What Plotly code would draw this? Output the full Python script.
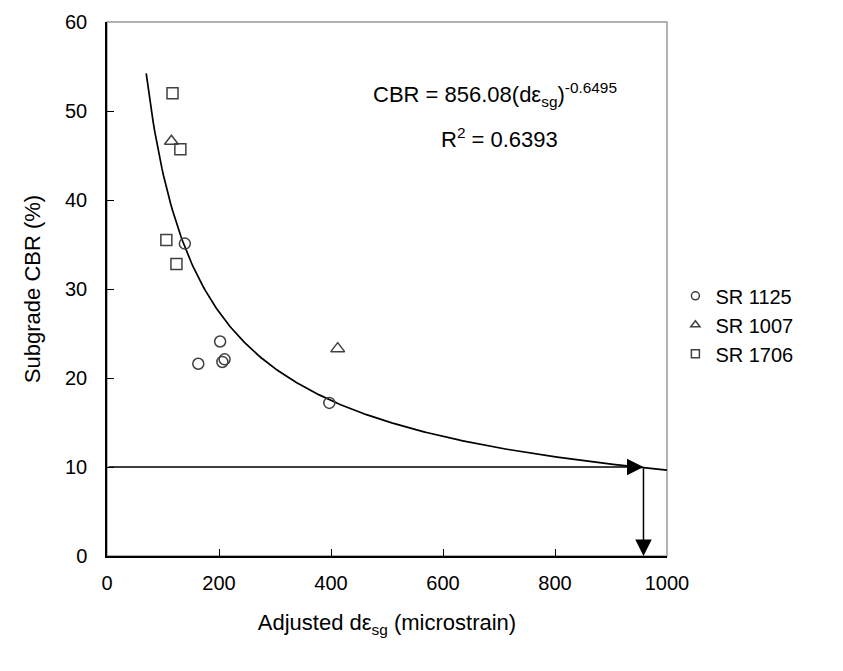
import numpy as np
import plotly.graph_objects as go

# Data
sr1125_x = [139, 202, 163, 206, 210, 397]
sr1125_y = [35.1, 24.1, 21.6, 21.8, 22.1, 17.2]
sr1007_x = [115, 412]
sr1007_y = [46.6, 23.3]
sr1706_x = [117, 131, 106, 124]
sr1706_y = [52.0, 45.7, 35.5, 32.8]

# Fitted power trend line from the chart's equation
fit_a = 856.08
fit_b = -0.6495
fit_x_start = 70
fit_x_end = 1000
target_cbr = 10
target_x = 958

x_ticks = [0, 200, 400, 600, 800, 1000]
y_ticks = [0, 10, 20, 30, 40, 50, 60]

fit_x = np.linspace(fit_x_start, fit_x_end, 300)
fit_y = fit_a * fit_x ** fit_b

mcol = "#404040"
FONT = "Liberation Sans"
fig = go.Figure()
fig.add_trace(go.Scatter(x=fit_x, y=fit_y, mode="lines",
                         line=dict(color="black", width=1.7), showlegend=False, hoverinfo="skip"))

series = [("SR 1125", sr1125_x, sr1125_y, "circle-open", 11),
          ("SR 1007", sr1007_x, sr1007_y, "triangle-up-open", 12),
          ("SR 1706", sr1706_x, sr1706_y, "square-open", 11)]
for name, xs, ys, sym, sz in series:
    fig.add_trace(go.Scatter(x=xs, y=ys, mode="markers", name=name, showlegend=False,
                             marker=dict(symbol=sym, size=sz, color=mcol, line=dict(width=1.5))))
for name, xs, ys, sym, sz in series:
    fig.add_trace(go.Scatter(x=[None], y=[None], mode="markers", name=name,
                             marker=dict(symbol=sym, size=8, color=mcol, line=dict(width=1.5))))

# arrows
fig.add_annotation(x=target_x, y=target_cbr, ax=0, ay=target_cbr, xref="x", yref="y",
                   axref="x", ayref="y", showarrow=True, arrowhead=2, arrowsize=2.2,
                   arrowwidth=1.5, arrowcolor="black", text="")
fig.add_annotation(x=target_x, y=0, ax=target_x, ay=target_cbr, xref="x", yref="y",
                   axref="x", ayref="y", showarrow=True, arrowhead=2, arrowsize=2.2,
                   arrowwidth=1.5, arrowcolor="black", text="")

fig.add_annotation(x=692, y=51.8, xref="x", yref="y", showarrow=False,
                   text="CBR = 856.08(dε<sub>sg</sub>)<sup>-0.6495</sup>",
                   font=dict(size=22, color="black", family=FONT))
fig.add_annotation(x=700, y=47.0, xref="x", yref="y", showarrow=False,
                   text="R<sup>2</sup> = 0.6393", font=dict(size=22, color="black", family=FONT))

# gray frame (top/right)
fig.add_shape(type="rect", xref="paper", yref="paper", x0=0, y0=0, x1=1, y1=1,
              line=dict(color="#999999", width=1.5), layer="below")

fig.update_layout(
    width=843, height=671,
    margin=dict(l=107, r=176, t=22, b=115),
    plot_bgcolor="white", paper_bgcolor="white",
    font=dict(family=FONT, size=20, color="black"),
    legend=dict(x=1.015, y=0.433, xanchor="left", yanchor="middle",
                font=dict(size=20, family=FONT), itemwidth=30, tracegroupgap=0),
    xaxis=dict(range=[0, 1000], tickvals=x_ticks, showgrid=False, zeroline=False,
               showline=True, linecolor="black", linewidth=1.5,
               ticks="inside", ticklen=7, tickcolor="black", ticklabelstandoff=8,
               tickfont=dict(size=20, family=FONT),
               title=dict(text="Adjusted dε<sub>sg</sub> (microstrain)",
                          font=dict(size=22, family=FONT), standoff=22)),
    yaxis=dict(range=[0, 60], tickvals=y_ticks, showgrid=False, zeroline=False,
               showline=True, linecolor="black", linewidth=1.5,
               ticks="inside", ticklen=7, tickcolor="black", ticklabelstandoff=14,
               tickfont=dict(size=20, family=FONT),
               title=dict(text="Subgrade CBR (%)", font=dict(size=22, family=FONT), standoff=18)),
)
fig.write_html("out.html")
